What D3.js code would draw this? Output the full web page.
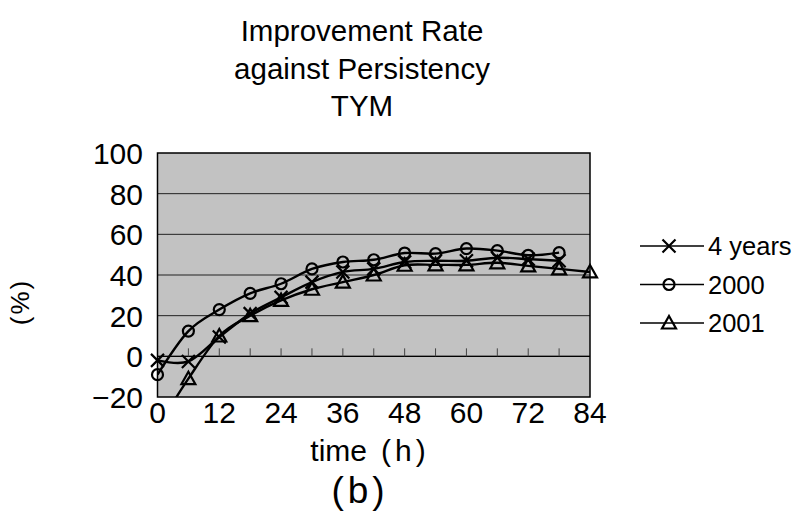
<!DOCTYPE html>
<html><head><meta charset="utf-8">
<script src="https://cdn.jsdelivr.net/npm/d3@7"></script>
<style>body{margin:0;background:#fff}svg{display:block}text{font-family:"Liberation Sans","Arial",sans-serif;fill:#000}</style>
</head><body><svg id="c" width="802" height="515"></svg>
<script>
const hours = [0,6,12,18,24,30,36,42,48,54,60,66,72,78,84];
const fourYears = [-2,-2.5,9.5,21,29,36.5,41.5,43,46.4,47,47,48.5,47.8,47,null];
const y2000 = [-9,12.4,23,31,35.7,43,46.4,47.5,50.8,50.5,53,52,49.7,51,null];
const y2001 = [-35,-11,10,20,27.5,33,36.5,40,44.8,45,45,46,44.5,43,41.5];
const yTicks = [-20,0,20,40,60,80,100];
const xTicks = [0,12,24,36,48,60,72,84];
const minorX = [6,12,18,24,30,36,42,48,54,60,66,72,78];
const titleLines = ["Improvement Rate","against Persistency","TYM"];
const seriesNames = ["4 years","2000","2001"];
const seriesMarkers = ["x","circle","triangle"];

const svg = d3.select("#c");
const L=157.5, R=590, T=153, B=397;
const x = d3.scaleLinear().domain([0,84]).range([L,R]);
const y = d3.scaleLinear().domain([-20,100]).range([B,T]);

titleLines.forEach((t,i)=>svg.append("text").attr("x",362).attr("y",41+i*37.5)
  .attr("text-anchor","middle").attr("font-size",29.5).text(t));

svg.append("rect").attr("x",L).attr("y",T).attr("width",R-L).attr("height",B-T)
  .attr("fill","#c2c2c2");
svg.append("defs").append("clipPath").attr("id","clip").append("rect")
  .attr("x",L).attr("y",T).attr("width",R-L).attr("height",B-T);

svg.append("g").selectAll("line").data(yTicks.filter(d=>d>-20&&d<100)).join("line")
  .attr("x1",L).attr("x2",R).attr("y1",d=>y(d)).attr("y2",d=>y(d))
  .attr("stroke","#222").attr("stroke-width",1);
svg.append("line").attr("x1",L).attr("x2",R).attr("y1",y(0)).attr("y2",y(0)).attr("stroke","#000").attr("stroke-width",1.3);
svg.append("g").selectAll("line").data(minorX).join("line")
  .attr("x1",d=>x(d)).attr("x2",d=>x(d)).attr("y1",y(0)-8).attr("y2",y(0))
  .attr("stroke","#444").attr("stroke-width",1);
svg.append("rect").attr("x",L).attr("y",T).attr("width",R-L).attr("height",B-T)
  .attr("fill","none").attr("stroke","#000").attr("stroke-width",1.5);

svg.append("g").selectAll("text").data(yTicks).join("text")
  .attr("x",143).attr("y",d=>y(d)+11).attr("text-anchor","end").attr("font-size",30)
  .text(d=>d<0?"\u2212"+Math.abs(d):d);
svg.append("g").selectAll("text").data(xTicks).join("text")
  .attr("x",d=>x(d)).attr("y",423).attr("text-anchor","middle").attr("font-size",30)
  .text(d=>d);

svg.append("text").attr("transform","translate(29,302) rotate(-90)").attr("text-anchor","middle")
  .attr("font-size",26).attr("letter-spacing",2).text("(%)");
const xl = svg.append("text").attr("x",368).attr("y",461).attr("text-anchor","middle").attr("font-size",30);
xl.append("tspan").text("time");
xl.append("tspan").attr("dx",14).text("(");
xl.append("tspan").attr("dx",4).text("h");
xl.append("tspan").attr("dx",4).text(")");
const bl = svg.append("text").attr("x",358).attr("y",503).attr("text-anchor","middle").attr("font-size",37);
bl.append("tspan").text("(");
bl.append("tspan").attr("dx",4).text("b");
bl.append("tspan").attr("dx",4).text(")");

function marker(g,type,cx,cy){
  if(type==="x"){
    g.append("path").attr("d",`M${cx-6.5},${cy-6.5}L${cx+6.5},${cy+6.5}M${cx-6.5},${cy+6.5}L${cx+6.5},${cy-6.5}`)
      .attr("stroke","#000").attr("stroke-width",2.2).attr("fill","none");
  } else if(type==="circle"){
    g.append("circle").attr("cx",cx).attr("cy",cy).attr("r",5.5).attr("fill","none")
      .attr("stroke","#000").attr("stroke-width",2.2);
  } else {
    g.append("path").attr("d",`M${cx},${cy-7}L${cx+7},${cy+5.5}L${cx-7},${cy+5.5}Z`)
      .attr("fill","none").attr("stroke","#000").attr("stroke-width",2.2);
  }
}
const all=[fourYears,y2000,y2001];
const line=d3.line().defined(d=>d[1]!=null).x(d=>x(d[0])).y(d=>y(d[1])).curve(d3.curveCatmullRom.alpha(0));
const plotG=svg.append("g").attr("clip-path","url(#clip)");
all.forEach((vals,i)=>{
  const pts=hours.map((h,j)=>[h,vals[j]]);
  plotG.append("path").attr("d",line(pts)).attr("fill","none").attr("stroke","#000").attr("stroke-width",2.4);
});
const mg=svg.append("g");
all.forEach((vals,i)=>{
  hours.forEach((h,j)=>{ const v=vals[j]; if(v!=null && v>=-20) marker(mg,seriesMarkers[i],x(h),y(v)); });
});

seriesNames.forEach((n,i)=>{
  const ly=246+i*38.5;
  svg.append("line").attr("x1",640).attr("x2",704).attr("y1",ly).attr("y2",ly).attr("stroke","#000").attr("stroke-width",1.5);
  marker(svg,seriesMarkers[i],669,ly);
  svg.append("text").attr("x",708).attr("y",ly+9).attr("font-size",25.5).text(n);
});
</script></body></html>
